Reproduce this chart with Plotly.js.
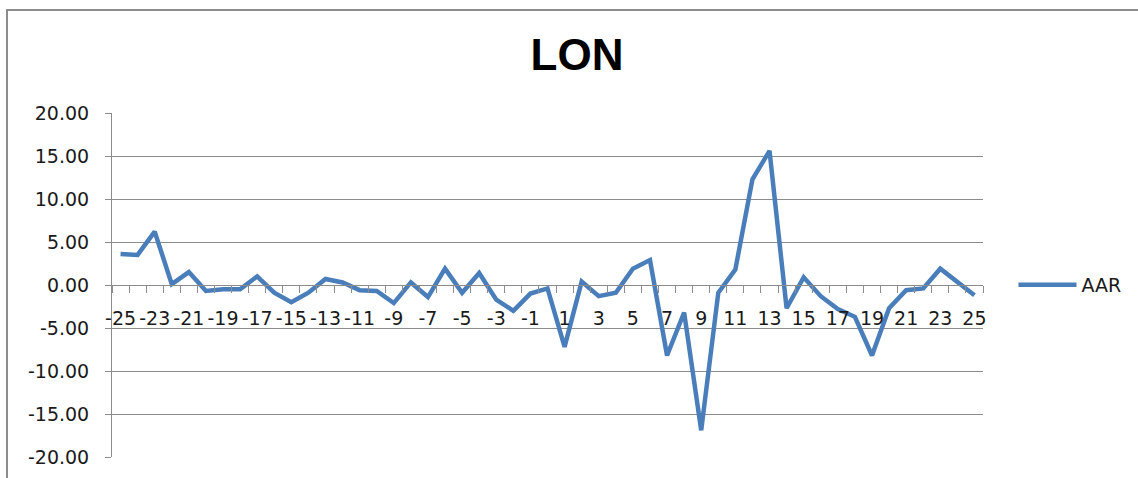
<!DOCTYPE html>
<html>
<head>
<meta charset="utf-8">
<script src="https://cdn.plot.ly/plotly-3.0.1.min.js"></script>
<style>
  html, body { margin: 0; padding: 0; background: #fff; }
  #wrap { position: relative; width: 1138px; height: 478px; overflow: hidden; }
  #chart { width: 1138px; height: 478px; }
  #frame { position: absolute; left: 6px; top: 9px; width: 1140px; height: 480px;
           border-top: 2px solid #8c8c8c; border-left: 2px solid #8c8c8c; pointer-events: none; }
</style>
</head>
<body>
<div id="wrap">
  <div id="chart"></div>
  <div id="frame"></div>
</div>
<script>
const days = [-25,-24,-23,-22,-21,-20,-19,-18,-17,-16,-15,-14,-13,-12,-11,-10,-9,-8,-7,-6,-5,-4,-3,-2,-1,0,
              1,2,3,4,5,6,7,8,9,10,11,12,13,14,15,16,17,18,19,20,21,22,23,24,25];
const aar = [3.6,3.5,6.2,0.1,1.5,-0.7,-0.5,-0.5,1.0,-0.9,-2.0,-0.9,0.7,0.3,-0.6,-0.7,-2.1,0.3,-1.4,1.9,-0.9,1.4,-1.7,-3.0,-1.0,-0.4,
             -7.2,0.4,-1.3,-0.9,1.9,2.9,-8.2,-3.2,-16.9,-0.9,1.8,12.3,15.6,-2.7,0.9,-1.3,-2.8,-3.7,-8.2,-2.7,-0.6,-0.4,1.9,0.3,-1.2];
const xTickVals = [-25,-23,-21,-19,-17,-15,-13,-11,-9,-7,-5,-3,-1,1,3,5,7,9,11,13,15,17,19,21,23,25];
const yTickVals = [20,15,10,5,0,-5,-10,-15,-20];
const seriesName = 'AAR';
const chartTitle = 'LON';

const tickFont = {family: 'DejaVu Sans, Open Sans, sans-serif', size: 19, color: '#1a1a1a'};

const data = [{
  x: days, y: aar, type: 'scatter', mode: 'lines', name: seriesName,
  line: {color: '#4a7ebb', width: 4.5}
}];

const layout = {
  width: 1138, height: 478,
  margin: {l: 112, r: 155, t: 113, b: 21},
  paper_bgcolor: '#ffffff', plot_bgcolor: '#ffffff',
  title: {text: '<b>' + chartTitle + '</b>', x: 577/1138, xref: 'container', xanchor: 'center',
          y: 1 - 55/478, yref: 'container', yanchor: 'middle',
          font: {family: 'Liberation Sans, Arial, sans-serif', size: 44, color: '#000'}},
  showlegend: true,
  legend: {x: 1.035, xanchor: 'left', y: 0.5, yanchor: 'middle', itemwidth: 58,
           font: {family: 'DejaVu Sans, Open Sans, sans-serif', size: 19, color: '#1a1a1a'},
           bgcolor: 'rgba(0,0,0,0)'},
  xaxis: {
    range: [-25.5, 25.5], anchor: 'free', position: 0.5,
    showgrid: false, zeroline: false, showline: true, linecolor: '#8c8c8c', linewidth: 1,
    tickmode: 'array', tickvals: xTickVals, ticktext: xTickVals.map(v => String(v)),
    ticks: 'outside', ticklen: 7, tickcolor: 'rgba(0,0,0,0)',
    ticklabelstandoff: 9,
    minor: {tick0: 0.5, dtick: 1, ticks: 'outside', ticklen: 7, tickcolor: '#8c8c8c', showgrid: false},
    tickfont: tickFont, fixedrange: true
  },
  yaxis: {
    range: [-20, 20], showgrid: true, gridcolor: '#8c8c8c', gridwidth: 1,
    zeroline: false, showline: true, linecolor: '#8c8c8c', linewidth: 1,
    tickmode: 'array', tickvals: yTickVals, ticktext: yTickVals.map(v => v.toFixed(2)),
    ticks: 'outside', ticklen: 6, tickcolor: '#8c8c8c',
    ticklabelstandoff: 12,
    tickfont: tickFont, fixedrange: true
  }
};

Plotly.newPlot('chart', data, layout, {displayModeBar: false, staticPlot: true});
</script>
</body>
</html>
